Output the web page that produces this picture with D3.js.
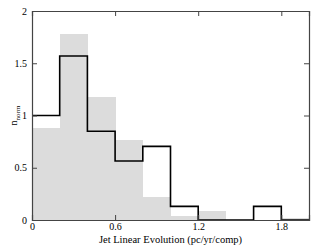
<!DOCTYPE html>
<html>
<head>
<meta charset="utf-8">
<script src="https://cdn.jsdelivr.net/npm/d3@7"></script>
<style>
  body { margin: 0; background: #fff; }
  svg text { font-family: "Liberation Serif", "DejaVu Serif", serif !important; fill: #000; }
</style>
</head>
<body>
<div id="chart"></div>
<script>
// Histogram bins (left edges), width 0.2
var binStarts = [0, 0.2, 0.4, 0.6, 0.8, 1.0, 1.2, 1.4, 1.6, 1.8];
var binWidth = 0.2;
// gray filled histogram
var grayValues = [0.88, 1.78, 1.175, 0.765, 0.22, 0.04, 0.09, 0, 0, 0.02];
// black outline histogram
var lineValues = [1.0, 1.57, 0.85, 0.565, 0.705, 0.13, 0, 0, 0.13, 0];

var xMajor = [0, 0.6, 1.2, 1.8];
var xMinor = [0.2, 0.4, 0.8, 1.0, 1.4, 1.6];
var yMajor = [0, 0.5, 1, 1.5, 2];
var yMinor = [0.25, 0.75, 1.25, 1.75];

var W = 324, H = 250;
var margin = { top: 11, right: 15, bottom: 30, left: 32 },
  width = W - margin.left - margin.right,
  height = H - margin.top - margin.bottom;

var x = d3.scaleLinear().domain([0, 2]).range([0, width]);
var y = d3.scaleLinear().domain([0, 2]).range([height, 0]);

var svg = d3
  .select("#chart")
  .append("svg")
  .attr("width", W)
  .attr("height", H)
  .append("g")
  .attr("transform", "translate(" + margin.left + "," + margin.top + ")");

// gray bars
svg
  .selectAll(".bar")
  .data(binStarts)
  .enter()
  .append("rect")
  .attr("class", "bar")
  .attr("x", function(d) { return x(d); })
  .attr("width", function(d) { return x(d + binWidth) - x(d) + 0.5; })
  .attr("y", function(d, i) { return y(grayValues[i]); })
  .attr("height", function(d, i) { return height - y(grayValues[i]); })
  .attr("fill", "#dcdcdc")
  .attr("shape-rendering", "crispEdges");

// step outline
var stepPts = [];
binStarts.forEach(function(d, i) {
  stepPts.push([d, lineValues[i]]);
  stepPts.push([d + binWidth, lineValues[i]]);
});
var line = d3
  .line()
  .x(function(d) { return x(d[0]); })
  .y(function(d) { return y(d[1]); });

svg
  .append("path")
  .datum(stepPts)
  .attr("d", line)
  .attr("fill", "none")
  .attr("stroke", "#000")
  .attr("stroke-width", 1.6);

// axes with inward ticks on all four sides
var axisColor = "#444";
var gBottom = svg.append("g").attr("transform", "translate(0," + height + ")");
gBottom.call(d3.axisBottom(x).tickValues(xMinor).tickSize(-3).tickFormat(""));
gBottom.call(d3.axisBottom(x).tickValues(xMajor).tickSize(-5).tickPadding(3)
  .tickFormat(d3.format("")));
var gTop = svg.append("g");
gTop.call(d3.axisTop(x).tickValues(xMinor).tickSize(-3).tickFormat(""));
gTop.call(d3.axisTop(x).tickValues(xMajor).tickSize(-5).tickFormat(""));
var gLeft = svg.append("g");
gLeft.call(d3.axisLeft(y).tickValues(yMinor).tickSize(-3).tickFormat(""));
gLeft.call(d3.axisLeft(y).tickValues(yMajor).tickSize(-5).tickPadding(5)
  .tickFormat(d3.format("")));
var gRight = svg.append("g").attr("transform", "translate(" + width + ",0)");
gRight.call(d3.axisRight(y).tickValues(yMinor).tickSize(-3).tickFormat(""));
gRight.call(d3.axisRight(y).tickValues(yMajor).tickSize(-5).tickFormat(""));

svg.selectAll("g").attr("font-family", null);
svg.selectAll(".domain").attr("stroke", axisColor).attr("stroke-width", 1.2);
svg.selectAll(".tick line").attr("stroke", axisColor);
svg.selectAll(".tick text").style("font-size", "10px");

// axis labels
svg
  .append("text")
  .attr("x", width / 2)
  .attr("y", height + 23)
  .attr("text-anchor", "middle")
  .style("font-size", "10.5px")
  .text("Jet Linear Evolution (pc/yr/comp)");

var ylab = svg
  .append("text")
  .attr("transform", "translate(" + (-15) + "," + (height / 2) + ") rotate(-90)")
  .attr("text-anchor", "middle")
  .style("font-size", "10px");
ylab.append("tspan").text("n");
ylab.append("tspan").attr("dy", 2.5).style("font-size", "7px").text("norm");
</script>
</body>
</html>
